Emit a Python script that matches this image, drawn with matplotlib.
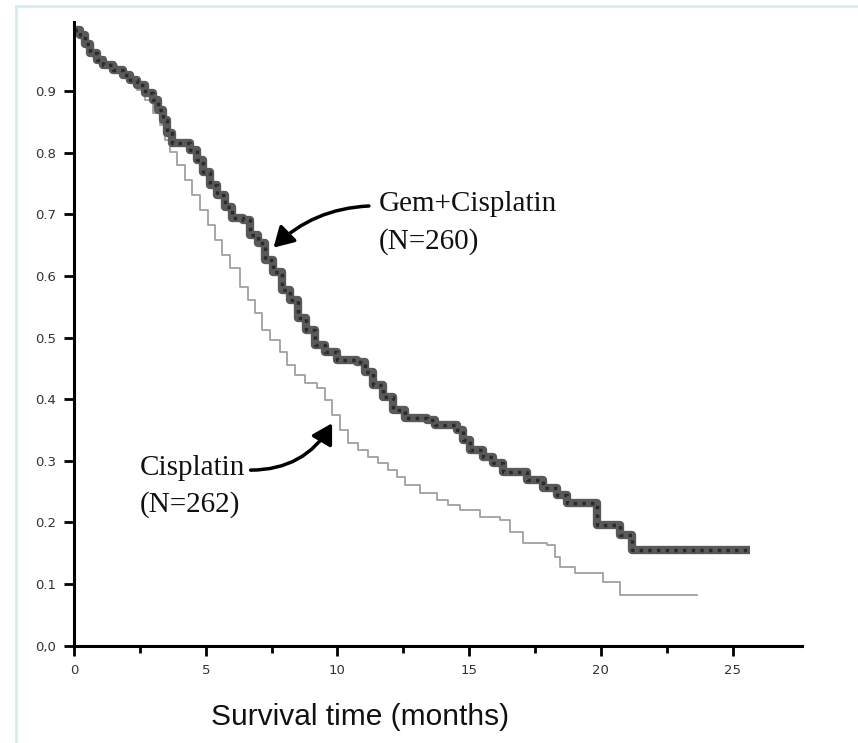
import matplotlib
matplotlib.use("Agg")
import matplotlib.pyplot as plt
from matplotlib.patches import FancyArrowPatch
from matplotlib.lines import Line2D

# Kaplan-Meier curves (months, survival)
gem_t = [0, 0.23, 0.42, 0.61, 0.87, 1.10, 1.48, 1.86, 2.13, 2.39, 2.69, 3.0, 3.19, 3.38,
         3.53, 3.72, 4.40, 4.67, 4.90, 5.16, 5.43, 5.73, 6.00, 6.41, 6.68, 6.98, 7.25,
         7.55, 7.89, 8.20, 8.50, 8.80, 9.15, 9.53, 9.98, 10.74, 11.04, 11.35, 11.73,
         12.11, 12.56, 13.4, 13.70, 14.54, 14.76, 15.03, 15.52, 15.90, 16.28, 17.19,
         17.80, 18.33, 18.71, 19.85, 20.72, 21.18, 25.65]
gem_s = [1.0, 0.991, 0.976, 0.962, 0.951, 0.942, 0.934, 0.926, 0.918, 0.910, 0.897, 0.886,
         0.870, 0.854, 0.832, 0.816, 0.804, 0.788, 0.769, 0.748, 0.732, 0.712, 0.694,
         0.691, 0.666, 0.653, 0.626, 0.606, 0.577, 0.561, 0.532, 0.513, 0.488, 0.477,
         0.464, 0.461, 0.444, 0.423, 0.404, 0.383, 0.370, 0.366, 0.358, 0.350, 0.334,
         0.318, 0.306, 0.297, 0.282, 0.269, 0.256, 0.245, 0.232, 0.196, 0.180, 0.155,
         0.155]

cis_t = [0, 0.23, 0.49, 0.72, 1.18, 1.63, 2.01, 2.39, 2.69, 3.0, 3.26, 3.45, 3.64, 3.91,
         4.21, 4.48, 4.78, 5.09, 5.35, 5.62, 5.92, 6.30, 6.60, 6.87, 7.13, 7.44, 7.82,
         8.08, 8.39, 8.77, 9.22, 9.53, 9.79, 10.09, 10.40, 10.78, 11.16, 11.54, 11.92,
         12.26, 12.56, 13.13, 13.78, 14.19, 14.65, 15.41, 16.17, 16.55, 17.04, 17.95,
         18.25, 18.44, 19.01, 20.08, 20.72, 23.64]
cis_s = [1.0, 0.986, 0.970, 0.956, 0.942, 0.929, 0.918, 0.902, 0.886, 0.865, 0.846, 0.821,
         0.802, 0.781, 0.756, 0.732, 0.708, 0.683, 0.659, 0.634, 0.613, 0.582, 0.561,
         0.540, 0.513, 0.496, 0.477, 0.456, 0.439, 0.426, 0.418, 0.399, 0.374, 0.350,
         0.329, 0.318, 0.306, 0.297, 0.285, 0.274, 0.261, 0.248, 0.237, 0.228, 0.220,
         0.209, 0.204, 0.184, 0.167, 0.163, 0.144, 0.128, 0.118, 0.103, 0.082, 0.082]

y_ticks = [0.0, 0.1, 0.2, 0.3, 0.4, 0.5, 0.6, 0.7, 0.8, 0.9]
y_labels = ["0,0", "0.1", "0.2", "0.3", "0.4", "0.5", "0.6", "0.7", "0.8", "0.9"]
x_ticks = [0, 5, 10, 15, 20, 25]

fig = plt.figure(figsize=(8.58, 7.43), dpi=100)
ax = fig.add_axes([0.0862, 0.131, 0.8485, 0.8394])

ax.plot(cis_t, cis_s, drawstyle="steps-post", color="#a0a0a0", lw=1.3)
ax.plot(gem_t, gem_s, drawstyle="steps-post", color="#5a5a5a", lw=6, solid_capstyle="butt")
ax.plot(gem_t, gem_s, drawstyle="steps-post", color="#2a2a2a", lw=2.5, ls=(0, (1, 1.5)))

ax.set_xlim(0, 27.63)
ax.set_ylim(0, 1.0125)
ax.set_yticks(y_ticks)
ax.set_yticklabels(y_labels)
ax.set_xticks(x_ticks)
ax.set_xticks([2.5, 7.5, 12.5, 17.5, 22.5], minor=True)
for s in ["top", "right"]:
    ax.spines[s].set_visible(False)
for s in ["left", "bottom"]:
    ax.spines[s].set_linewidth(2.2)
ax.tick_params(axis="both", which="major", direction="out", length=7, width=2,
               labelsize=9.5, labelcolor="#333333", pad=6)
ax.tick_params(axis="x", which="minor", direction="out", length=5, width=2)

fig.text(360 / 858, 1 - 717 / 743, "Survival time (months)", fontsize=21.5,
         family="Liberation Sans", ha="center", va="center", color="#111111")

serif = "Liberation Serif"
ax.text(11.55, 0.686, "Gem+Cisplatin\n(N=260)", fontsize=21, family=serif,
        va="center", ha="left", linespacing=1.5, color="#111111")
ax.text(2.5, 0.258, "Cisplatin\n(N=262)", fontsize=21, family=serif,
        va="center", ha="left", linespacing=1.5, color="#111111")

ax.add_patch(FancyArrowPatch((11.3, 0.714), (7.5, 0.643), connectionstyle="arc3,rad=0.2",
                             arrowstyle="-|>,head_length=6,head_width=3.5", lw=2.5,
                             color="black", mutation_scale=2))
ax.add_patch(FancyArrowPatch((6.6, 0.285), (9.85, 0.365), connectionstyle="arc3,rad=0.3",
                             arrowstyle="-|>,head_length=6,head_width=3.5", lw=2.5,
                             color="black", mutation_scale=2))

# light page frame
fc = "#d6ebee"
fig.add_artist(Line2D([16 / 858, 16 / 858], [0, 1 - 6 / 743], transform=fig.transFigure,
                      color=fc, lw=2))
fig.add_artist(Line2D([16 / 858, 1], [1 - 6 / 743, 1 - 6 / 743], transform=fig.transFigure,
                      color=fc, lw=2))

fig.savefig("out.png", dpi=100)
